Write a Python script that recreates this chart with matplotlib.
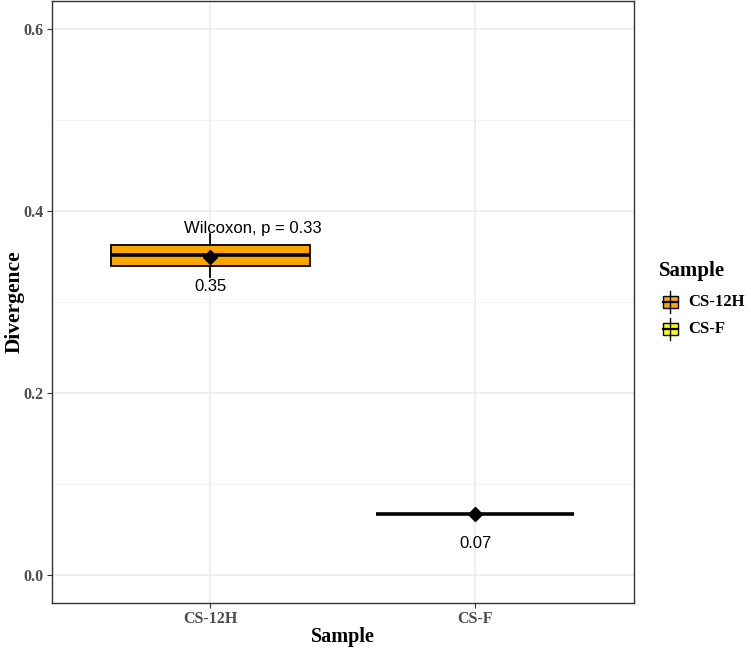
import matplotlib
matplotlib.use("Agg")
import matplotlib.pyplot as plt
from matplotlib.patches import Rectangle
from matplotlib.lines import Line2D

# data
samples = ["CS-12H", "CS-F"]
q1 = [0.3395, 0.0672]
medians = [0.3513, 0.0672]
q3 = [0.3623, 0.0672]
whisker_lo = [0.3280, 0.0672]
whisker_hi = [0.3750, 0.0672]
means = [0.350, 0.0672]
mean_labels = ["0.35", "0.07"]
fill_colors = ["#FFA500", "#FFFF00"]
p_label = "Wilcoxon, p = 0.33"

W, H = 751, 649
fig = plt.figure(figsize=(W / 100, H / 100), dpi=100)


def fx(px):
    return px / W


def fy(py):
    return 1 - py / H


ax = fig.add_axes([fx(51.5), fy(603), fx(634) - fx(51.5), fy(1) - fy(603)])

positions = list(range(1, len(samples) + 1))
stats = []
for i in range(len(samples)):
    stats.append(dict(med=medians[i], q1=q1[i], q3=q3[i],
                      whislo=whisker_lo[i], whishi=whisker_hi[i],
                      mean=means[i], fliers=[]))

bp = ax.bxp(stats, positions=positions, widths=0.75, patch_artist=True,
            showcaps=False, showfliers=False, showmeans=True,
            boxprops=dict(edgecolor="black", linewidth=1.3),
            medianprops=dict(color="black", linewidth=2.6),
            whiskerprops=dict(color="black", linewidth=1.3),
            meanprops=dict(marker="D", markerfacecolor="black",
                           markeredgecolor="black", markersize=7.5))
for patch, c in zip(bp["boxes"], fill_colors):
    patch.set_facecolor(c)
for m in bp["medians"]:
    m.set_zorder(4)
for m in bp["means"]:
    m.set_zorder(5)

# mean labels under each box
for pos, m, lab in zip(positions, means, mean_labels):
    ax.text(pos, m - 0.0325, lab, ha="center", va="center",
            fontsize=12, family="Liberation Sans", color="black", zorder=6)

ax.text(1.159, 0.3805, p_label, ha="center", va="center",
        fontsize=12, family="Liberation Sans", color="black", zorder=6)

ax.set_xlim(0.4, 2.6)
ax.set_ylim(-0.031, 0.631)
ax.set_xticks(positions)
ax.set_xticklabels(samples)
ax.set_yticks([0.0, 0.2, 0.4, 0.6])
ax.set_yticklabels(["0.0", "0.2", "0.4", "0.6"])
ax.set_yticks([0.1, 0.3, 0.5], minor=True)

ax.grid(True, which="major", color="#EBEBEB", linewidth=1.1, zorder=0)
ax.grid(True, which="minor", axis="y", color="#F2F2F2", linewidth=0.6, zorder=0)
ax.set_axisbelow(True)
ax.tick_params(axis="both", which="major", length=3.5, width=0.8,
               color="#333333", labelcolor="#4D4D4D", pad=2.5)
ax.tick_params(axis="y", which="minor", length=0)
for lab in ax.get_xticklabels() + ax.get_yticklabels():
    lab.set_family("Liberation Serif")
    lab.set_fontweight("bold")
    lab.set_fontsize(11.5)
for sp in ax.spines.values():
    sp.set_color("#333333")
    sp.set_linewidth(1.0)

# axis titles
fig.text(fx(342.5), fy(637), "Sample", ha="center", va="center",
         family="Liberation Serif", fontweight="bold", fontsize=14.5)
fig.text(fx(15), fy(302), "Divergence", ha="center", va="center",
         rotation=90, family="Liberation Serif", fontweight="bold", fontsize=15.5)

# legend drawn by hand, ggplot style
fig.text(fx(659), fy(271), "Sample", ha="left", va="center",
         family="Liberation Serif", fontweight="bold", fontsize=15)
key_y = [302, 329]
for ky, c, lab in zip(key_y, fill_colors, samples):
    fig.add_artist(Line2D([fx(670), fx(670)], [fy(ky - 11), fy(ky + 11)],
                          color="black", linewidth=1.0))
    fig.add_artist(Rectangle((fx(662.5), fy(ky + 5.8)), fx(15), 11.6 / H,
                             facecolor=c, edgecolor="black", linewidth=1.0))
    fig.add_artist(Line2D([fx(662.5), fx(677.5)], [fy(ky), fy(ky)],
                          color="black", linewidth=1.6))
    fig.text(fx(688), fy(ky), lab, ha="left", va="center",
             family="Liberation Serif", fontweight="bold", fontsize=12)

fig.savefig("out.png", dpi=100)
